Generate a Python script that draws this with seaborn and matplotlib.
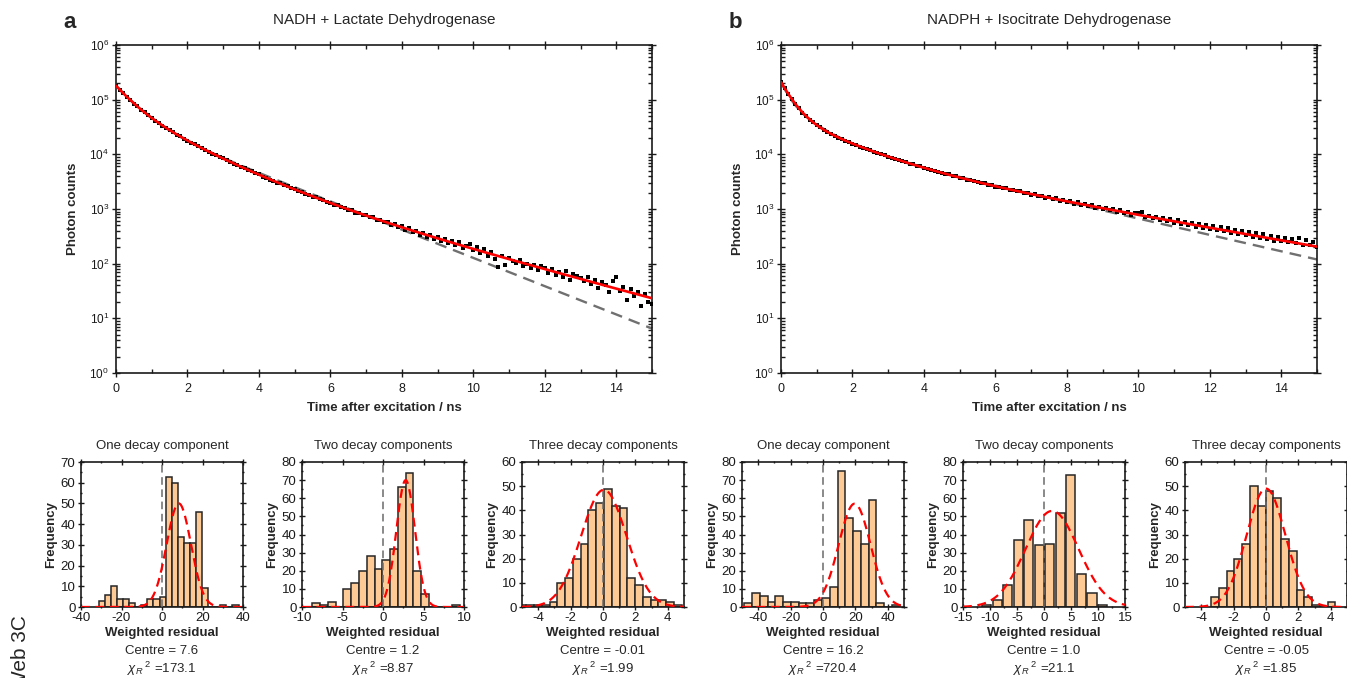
import numpy as np
import pandas as pd
import matplotlib
matplotlib.use('Agg')
import matplotlib.pyplot as plt
from matplotlib.ticker import MultipleLocator
import seaborn as sns

sns.set_style("ticks")
plt.rcParams['font.family'] = ['Liberation Sans', 'DejaVu Sans']
plt.rcParams['mathtext.fontset'] = 'custom'
plt.rcParams['mathtext.rm'] = 'Liberation Sans'
plt.rcParams['mathtext.it'] = 'Liberation Sans:italic'
plt.rcParams['mathtext.bf'] = 'Liberation Sans:bold'
plt.rcParams['axes.unicode_minus'] = False

# ---- decay curves (counts per 0.1 ns channel) ----
time_ns = np.round(np.arange(0, 15.01, 0.1), 1)

counts_a = [178000, 152000, 133000, 112000, 99000, 85000, 75500, 65500, 58800, 51500,
            46500, 41200, 37500, 33500, 30800, 27600, 25400, 23000, 21300, 19300,
            17900, 16400, 15300, 14000, 13100, 12000, 11200, 10300, 9700, 8900,
            8400, 7750, 7300, 6700, 6350, 5850, 5550, 5120, 4870, 4480,
            4280, 3930, 3760, 3460, 3320, 3050, 2930, 2700, 2600, 2390,
            2300, 2120, 2050, 1880, 1830, 1680, 1630, 1500, 1460, 1340,
            1300, 1200, 1170, 1070, 1060, 960, 950, 860, 860, 780,
            770, 700, 700, 630, 640, 570, 580, 510, 530, 470,
            480, 420, 440, 380, 400, 340, 365, 310, 335, 285,
            305, 260, 285, 235, 262, 215, 245, 190, 210, 232,
            175, 205, 160, 185, 140, 165, 120, 88, 140, 95,
            128, 110, 105, 118, 92, 100, 85, 96, 78, 92,
            84, 68, 80, 62, 70, 58, 74, 50, 66, 60,
            54, 48, 58, 42, 50, 36, 46, 40, 30, 48,
            58, 32, 38, 22, 34, 26, 30, 17, 28, 20,
            18]

counts_b = [207000, 165000, 127000, 104000, 83000, 70000, 58000, 50500, 43200, 38700,
            34000, 31100, 27800, 25900, 23500, 22100, 20200, 19200, 17700, 16900,
            15600, 14950, 13850, 13300, 12400, 11900, 11100, 10700, 10000, 9650,
            9020, 8720, 8170, 7910, 7420, 7200, 6750, 6560, 6160, 6000,
            5630, 5490, 5160, 5040, 4740, 4640, 4360, 4280, 4030, 3950,
            3720, 3660, 3450, 3400, 3200, 3150, 2970, 2930, 2760, 2740,
            2570, 2560, 2400, 2400, 2230, 2250, 2090, 2110, 1960, 1970,
            1840, 1860, 1720, 1750, 1610, 1660, 1520, 1560, 1430, 1480,
            1340, 1400, 1260, 1320, 1190, 1250, 1120, 1180, 1060, 1110,
            1000, 1060, 950, 1000, 890, 950, 840, 900, 790, 860,
            830, 880, 720, 760, 680, 720, 640, 690, 600, 660,
            560, 640, 530, 590, 500, 560, 470, 540, 450, 510,
            430, 490, 410, 470, 390, 440, 360, 420, 345, 400,
            330, 380, 310, 370, 290, 345, 280, 320, 265, 310,
            255, 300, 245, 285, 235, 295, 220, 270, 215, 250,
            205]

# fitted decay models: amplitudes and lifetimes (ns)
red_amp_a = [105000, 66000, 9300]
red_tau_a = [0.45, 1.2, 2.5]
grey_amp_a = [131000, 49000]
grey_tau_a = [0.52, 1.68]
red_amp_b = [156000, 43000, 10600]
red_tau_b = [0.31, 1.3, 3.8]
grey_amp_b = [118900, 69700, 21040]
grey_tau_b = [0.22, 0.77, 2.9]

# ---- residual histograms: first bin edge, bin width, counts ----
h1_start, h1_width = -31.2, 3.0
h1_counts = [3, 6, 10, 4, 4, 2, 0, 1, 4, 4, 5, 63, 60, 34, 31, 31, 46, 9, 0, 0, 1, 0, 1]
h2_start, h2_width = -8.72, 0.96
h2_counts = [2, 1, 3, 0, 10, 13, 20, 28, 21, 26, 32, 66, 74, 20, 7, 0, 0, 0, 1]
h3_start, h3_width = -5.22, 0.48
h3_counts = [1, 1, 1, 1, 2, 10, 12, 20, 26, 40, 43, 49, 42, 41, 12, 9, 4, 3, 3, 2, 1]
h4_start, h4_width = -48.6, 4.8
h4_counts = [2, 8, 6, 3, 6, 3, 3, 2, 2, 4, 5, 11, 75, 49, 42, 35, 59, 2, 0, 1]
h5_start, h5_width = -11.6, 1.95
h5_counts = [1, 4, 12, 37, 48, 34, 35, 52, 73, 18, 8, 1]
h6_start, h6_width = -3.39, 0.48
h6_counts = [4, 8, 15, 20, 26, 50, 42, 48, 45, 28, 23, 7, 4, 1, 0, 2]

# gaussian fits: amplitude, centre, sigma
gauss = [(50, 8.3, 6.0), (70, 2.8, 1.15), (48.5, 0.05, 1.4),
         (57, 19.5, 9.8), (53, 1.5, 4.9), (49, 0.0, 1.2)]
hist_titles = ['One decay component', 'Two decay components', 'Three decay components'] * 2
centres = ['7.6', '1.2', '-0.01', '16.2', '1.0', '-0.05']
chi2 = ['173.1', '8.87', '1.99', '720.4', '21.1', '1.85']

W, H = 1347, 678
fig = plt.figure(figsize=(W / 100, H / 100), dpi=100)


def frac(l, t, r, b):
    return [l / W, 1 - b / H, (r - l) / W, (b - t) / H]


def ftext(x, y, s, **kw):
    fig.text(x / W, 1 - y / H, s, **kw)


def style_spines(ax, lw):
    for sp in ax.spines.values():
        sp.set_visible(True)
        sp.set_linewidth(lw)
        sp.set_color('#1a1a1a')


def draw_decay(box, counts, r_amp, r_tau, g_amp, g_tau, title, letter):
    l, t, r, b = box
    ax = fig.add_axes(frac(*box))
    tt = np.linspace(0, 15, 601)
    grey = sum(a * np.exp(-tt / k) for a, k in zip(g_amp, g_tau))
    red = sum(a * np.exp(-tt / k) for a, k in zip(r_amp, r_tau))
    ax.plot(tt, grey, color='#707070', lw=1.7, ls=(0, (5, 3)), zorder=2)
    df = pd.DataFrame({'t': time_ns, 'n': counts})
    sns.scatterplot(data=df, x='t', y='n', marker='s', s=12, color='black',
                    linewidth=0, ax=ax, zorder=3)
    ax.plot(tt, red, color='#ff0000', lw=1.9, zorder=4)
    ax.set_yscale('log')
    ax.set_ylim(1, 1e6)
    ax.set_xlim(0, 15)
    ax.xaxis.set_major_locator(MultipleLocator(2))
    ax.xaxis.set_minor_locator(MultipleLocator(1))
    ax.tick_params(which='both', top=True, right=True, direction='inout',
                   width=1, colors='#1a1a1a', pad=4)
    ax.tick_params(axis='x', labelsize=9)
    ax.tick_params(axis='y', labelsize=8.5, pad=2)
    ax.tick_params(which='major', length=6)
    ax.tick_params(which='minor', length=3, direction='in')
    ax.set_xlabel('')
    ax.set_ylabel('')
    style_spines(ax, 1.2)
    cx = (l + r) / 2
    ftext(cx, 20, title, ha='center', va='center', fontsize=11)
    ftext(l - 46, 22, letter, ha='center', va='center', fontsize=16, fontweight='bold')
    ftext(cx, 408, 'Time after excitation / ns', ha='center', va='center',
          fontsize=9.5, fontweight='bold')
    ftext(l - 43, (t + b) / 2, 'Photon counts', ha='center', va='center',
          rotation=90, fontsize=9.5, fontweight='bold')


draw_decay((116, 45, 652, 373), counts_a, red_amp_a, red_tau_a, grey_amp_a, grey_tau_a,
           'NADH + Lactate Dehydrogenase', 'a')
draw_decay((781, 45, 1317, 373), counts_b, red_amp_b, red_tau_b, grey_amp_b, grey_tau_b,
           'NADPH + Isocitrate Dehydrogenase', 'b')

hists = [(h1_start, h1_width, h1_counts), (h2_start, h2_width, h2_counts),
         (h3_start, h3_width, h3_counts), (h4_start, h4_width, h4_counts),
         (h5_start, h5_width, h5_counts), (h6_start, h6_width, h6_counts)]
xlims = [(-40, 40), (-10, 10), (-5, 5), (-50, 50), (-15, 15), (-5, 5)]
xmajor = [20, 5, 2, 20, 5, 2]
ymax = [70, 80, 60, 80, 80, 60]
shrinks = [1, 1, 1, 1, 0.88, 1]
lefts = [81, 302, 522, 742, 963, 1185]

for i, (start, width, cnt) in enumerate(hists):
    l = lefts[i]
    r = l + 162
    t, b = 462, 607
    ax = fig.add_axes(frac(l, t, r, b))
    cnt = np.asarray(cnt, dtype=float)
    edges = start + width * np.arange(len(cnt) + 1)
    hdf = pd.DataFrame({'resid': edges[:-1] + width / 2, 'freq': cnt})
    sns.histplot(data=hdf, x='resid', weights='freq', bins=edges.tolist(), ax=ax,
                 color='#fdca96', edgecolor='#262626', linewidth=1.1, alpha=1,
                 shrink=shrinks[i], zorder=2)
    ax.axvline(0, color='#6a6a6a', lw=1.1, ls=(0, (5, 3)), zorder=3)
    amp, mu, sd = gauss[i]
    xs = np.linspace(xlims[i][0], xlims[i][1], 400)
    ax.plot(xs, amp * np.exp(-0.5 * ((xs - mu) / sd) ** 2), color='#ff0000',
            lw=1.6, ls=(0, (4, 2.5)), zorder=4)
    ax.set_xlim(*xlims[i])
    ax.set_ylim(0, ymax[i])
    ax.xaxis.set_major_locator(MultipleLocator(xmajor[i]))
    ax.xaxis.set_minor_locator(MultipleLocator(xmajor[i] / 2))
    ax.yaxis.set_major_locator(MultipleLocator(10))
    ax.yaxis.set_minor_locator(MultipleLocator(5))
    ax.tick_params(which='both', top=True, right=True, direction='inout',
                   labeltop=False, labelright=False, labelsize=9.5, width=1,
                   colors='#1a1a1a')
    ax.tick_params(axis='x', pad=1.5)
    ax.tick_params(axis='y', pad=2)
    ax.tick_params(which='major', length=4)
    ax.tick_params(which='minor', length=2)
    ax.set_xlabel('')
    ax.set_ylabel('')
    style_spines(ax, 1.2)
    cx = (l + r) / 2
    ftext(cx, 446, hist_titles[i], ha='center', va='center', fontsize=9.5)
    ftext(cx, 633, 'Weighted residual', ha='center', va='center',
          fontsize=9.5, fontweight='bold')
    ftext(l - 30, (t + b) / 2, 'Frequency', ha='center', va='center',
          rotation=90, fontsize=9.5, fontweight='bold')
    ftext(cx, 651, 'Centre = ' + centres[i], ha='center', va='center', fontsize=9.5)
    ftext(cx, 669, r'$\chi_R$$^{\ 2}$ =' + chi2[i], ha='center', va='center', fontsize=9.5)

ftext(21, 690, 'Web 3C', ha='center', va='bottom', rotation=90, fontsize=15)

fig.savefig('out.png', dpi=100)
